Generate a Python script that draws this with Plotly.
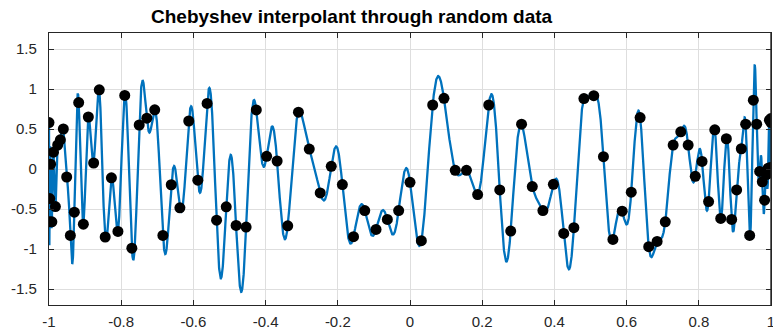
import numpy as np
import plotly.graph_objects as go

# Data values at the 101 Chebyshev points, ordered from x=-1 to x=1
y_data = [
    0.58, -0.66, -0.37, 0.06, -0.66, 0.21, -0.47, 0.30, 0.365, 0.50,
    -0.10, -0.83, -0.54, 0.83, -0.69, 0.65, 0.075, 0.99, -0.85, -0.11,
    -0.78, 0.92, -0.99, 0.55, 0.635, 0.74, -0.83, -0.197, -0.485, 0.60,
    -0.14, 0.82, -0.64, -0.473, -0.705, -0.726, 0.739, 0.158, 0.10, -0.71,
    0.71, 0.249, -0.299, 0.033, -0.195, -0.846, -0.519, -0.755, -0.631, -0.519,
    -0.166, -0.896, 0.80, 0.884, -0.017, -0.017, -0.32, 0.80, -0.261, -0.776,
    0.56, -0.22, -0.519, -0.191, -0.805, -0.734, 0.88, 0.917, 0.154, -0.88,
    -0.527, -0.29, 0.643, -0.971, -0.905, -0.66, 0.299, 0.465, 0.299, -0.091,
    0.095, -0.407, 0.49, -0.618, 0.378, -0.631, -0.261, 0.253, 0.56, -0.83,
    0.86, 0.56, -0.03, -0.16, -0.39, -0.07, 0.01, 0.61, 0.02, 0.63,
    0.58,
]

x_ticks = [-1, -0.8, -0.6, -0.4, -0.2, 0, 0.2, 0.4, 0.6, 0.8, 1]
x_ticktext = ["-1", "-0.8", "-0.6", "-0.4", "-0.2", "0", "0.2", "0.4", "0.6", "0.8", "1"]
y_ticks = [-1.5, -1, -0.5, 0, 0.5, 1, 1.5]
y_ticktext = ["-1.5", "-1", "-0.5", "0", "0.5", "1", "1.5"]
title_text = "Chebyshev interpolant through random data"

# Chebyshev points of the second kind (ascending)
n = len(y_data) - 1
xk = -np.cos(np.pi * np.arange(n + 1) / n)
fk = np.array(y_data)

# Barycentric interpolation
w = (-1.0) ** np.arange(n + 1)
w[0] *= 0.5
w[-1] *= 0.5
xx = np.linspace(-1, 1, 6000)
diff = xx[:, None] - xk[None, :]
exact = np.isclose(diff, 0.0, atol=1e-14)
diff[exact] = 1.0
tmp = w / diff
pp = (tmp @ fk) / tmp.sum(axis=1)
rows, cols = np.where(exact)
pp[rows] = fk[cols]

fig = go.Figure()
fig.add_trace(go.Scatter(x=xx, y=pp, mode="lines",
                         line=dict(color="#0072BD", width=2.3), hoverinfo="skip"))
fig.add_trace(go.Scatter(x=xk, y=fk, mode="markers",
                         marker=dict(color="black", size=11)))

axis_common = dict(
    showline=True, linecolor="#262626", linewidth=1.4, mirror="ticks",
    ticks="inside", ticklen=5, tickcolor="#262626", tickwidth=1,
    showgrid=True, gridcolor="#dedede", gridwidth=1.2, zeroline=False,
    ticklabeloverflow="allow", automargin=False,
    tickfont=dict(family="Liberation Sans, Arial, sans-serif", size=15, color="#262626"),
)

fig.update_layout(
    width=773, height=331,
    margin=dict(l=49, r=2, t=33, b=26, autoexpand=False),
    paper_bgcolor="white", plot_bgcolor="white",
    showlegend=False,
    xaxis=dict(range=[-1, 1], tickvals=x_ticks, ticktext=x_ticktext,
               ticklabelstandoff=3, **axis_common),
    yaxis=dict(range=[-1.7, 1.7], tickvals=y_ticks, ticktext=y_ticktext,
               ticklabelstandoff=8, **axis_common),
    shapes=[dict(type="line", xref="paper", yref="paper", x0=1, x1=1, y0=0, y1=1,
                 line=dict(color="#262626", width=1.4), layer="above")],
    annotations=[dict(text="<b>" + title_text + "</b>", xref="paper", yref="paper",
                      x=0.42, y=1.06, xanchor="center", yanchor="middle",
                      showarrow=False,
                      font=dict(family="Liberation Sans, Arial, sans-serif", size=19, color="black"))],
)

fig.write_html("out.html", config={"displayModeBar": False},
               post_script="document.body.style.margin='0px';document.body.style.overflow='hidden';")
